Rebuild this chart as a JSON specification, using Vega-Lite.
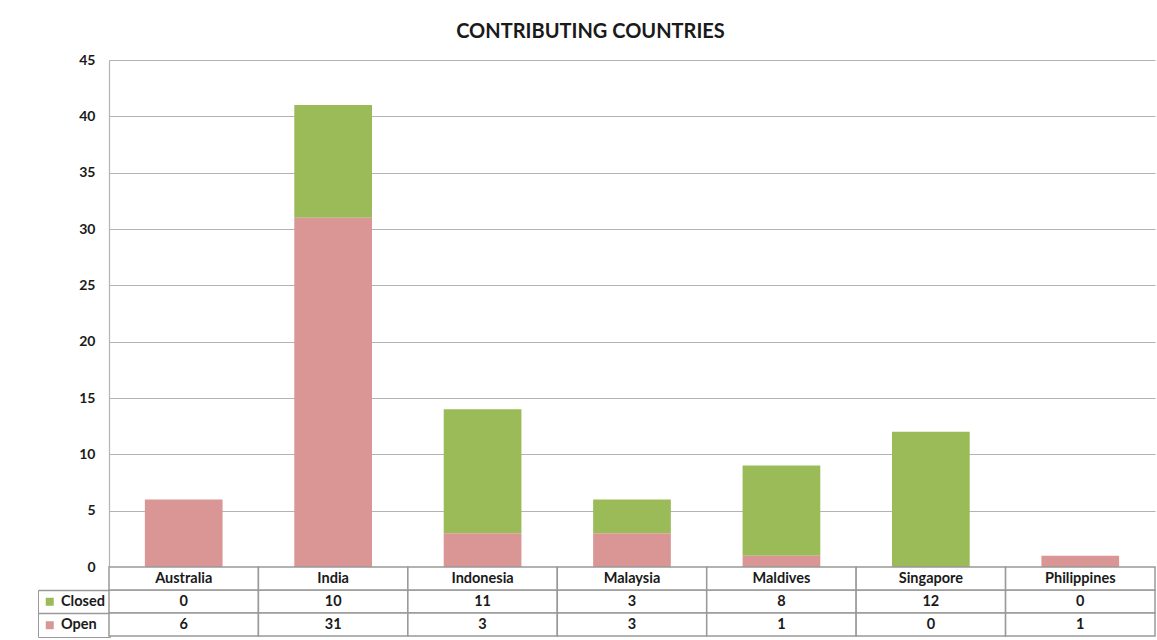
{
  "$schema": "https://vega.github.io/schema/vega-lite/v6.json",
  "padding": {"left": 37, "top": 22, "right": 3, "bottom": 1},
  "title": {"text": "CONTRIBUTING COUNTRIES", "font": "Lato", "fontSize": 20, "fontWeight": "bold", "color": "#1a1a1a", "anchor": "middle", "offset": 11, "dx": -6},
  "config": {"view": {"stroke": null}, "font": "Lato"},
  "data": {"values": [
    {"country": "Australia", "status": "Closed", "value": 0},
    {"country": "Australia", "status": "Open", "value": 6},
    {"country": "India", "status": "Closed", "value": 10},
    {"country": "India", "status": "Open", "value": 31},
    {"country": "Indonesia", "status": "Closed", "value": 11},
    {"country": "Indonesia", "status": "Open", "value": 3},
    {"country": "Malaysia", "status": "Closed", "value": 3},
    {"country": "Malaysia", "status": "Open", "value": 3},
    {"country": "Maldives", "status": "Closed", "value": 8},
    {"country": "Maldives", "status": "Open", "value": 1},
    {"country": "Singapore", "status": "Closed", "value": 12},
    {"country": "Singapore", "status": "Open", "value": 0},
    {"country": "Philippines", "status": "Closed", "value": 0},
    {"country": "Philippines", "status": "Open", "value": 1}
  ]},
  "spacing": 0,
  "bounds": "flush",
  "resolve": {"scale": {"x": "independent", "y": "independent"}, "legend": {"color": "independent"}},
  "vconcat": [
    {
      "width": 1046,
      "height": 507,
      "mark": {"type": "bar"},
      "encoding": {
        "x": {"field": "country", "type": "nominal", "sort": null, "scale": {"paddingInner": 0.48, "paddingOuter": 0.24}, "axis": null},
        "y": {"field": "value", "type": "quantitative", "stack": "zero", "scale": {"domain": [0, 45], "nice": false},
          "axis": {"values": [0, 5, 10, 15, 20, 25, 30, 35, 40, 45], "title": null, "grid": true, "gridColor": "#b3b3b3", "gridWidth": 1.2, "domainColor": "#b3b3b3", "domainWidth": 1.2, "ticks": false, "labelFont": "Lato", "labelFontSize": 14, "labelFontWeight": "bold", "labelColor": "#1a1a1a", "labelPadding": 14}},
        "color": {"field": "status", "type": "nominal", "scale": {"domain": ["Closed", "Open"], "range": ["#9BBB59", "#D99694"]},
          "legend": {"orient": "none", "legendX": -71, "legendY": 530, "title": null, "symbolType": "square", "symbolSize": 64, "symbolStrokeWidth": 0, "labelFont": "Lato", "labelFontSize": 14.5, "labelFontWeight": "bold", "labelColor": "#1a1a1a", "rowPadding": 8.5, "padding": 4.5, "strokeColor": "#999999", "labelOffset": 4}},
        "order": {"field": "status", "sort": "descending"}
      }
    },
    {
      "width": 1046,
      "height": 69,
      "layer": [
        {
          "mark": {"type": "rect", "fill": "white", "stroke": "#999999", "strokeWidth": 1.5},
          "encoding": {
            "x": {"field": "country", "type": "nominal", "sort": null, "scale": {"paddingInner": 0, "paddingOuter": 0}, "axis": null},
            "y": {"field": "status", "type": "nominal", "scale": {"domain": ["hdr", "Closed", "Open"], "paddingInner": 0, "paddingOuter": 0},
              "axis": {"title": null, "labels": false, "domain": false, "values": ["Closed", "Open"], "bandPosition": 0, "tickSize": 71, "tickColor": "#999999", "tickWidth": 1.5, "grid": false}}
          }
        },
        {
          "transform": [{"filter": "datum.status == 'Closed'"}],
          "mark": {"type": "rect", "fill": "white", "stroke": "#999999", "strokeWidth": 1.5},
          "encoding": {
            "x": {"field": "country", "type": "nominal", "sort": null},
            "y": {"datum": "hdr", "type": "nominal"}
          }
        },
        {
          "mark": {"type": "text", "font": "Lato", "fontSize": 14.5, "fontWeight": "bold", "fill": "#1a1a1a"},
          "encoding": {
            "x": {"field": "country", "type": "nominal", "sort": null},
            "y": {"field": "status", "type": "nominal"},
            "text": {"field": "value", "type": "quantitative"}
          }
        },
        {
          "transform": [{"filter": "datum.status == 'Closed'"}],
          "mark": {"type": "text", "font": "Lato", "fontSize": 14.5, "fontWeight": "bold", "fill": "#1a1a1a"},
          "encoding": {
            "x": {"field": "country", "type": "nominal", "sort": null},
            "y": {"datum": "hdr", "type": "nominal"},
            "text": {"field": "country", "type": "nominal"}
          }
        }
      ]
    }
  ]
}
